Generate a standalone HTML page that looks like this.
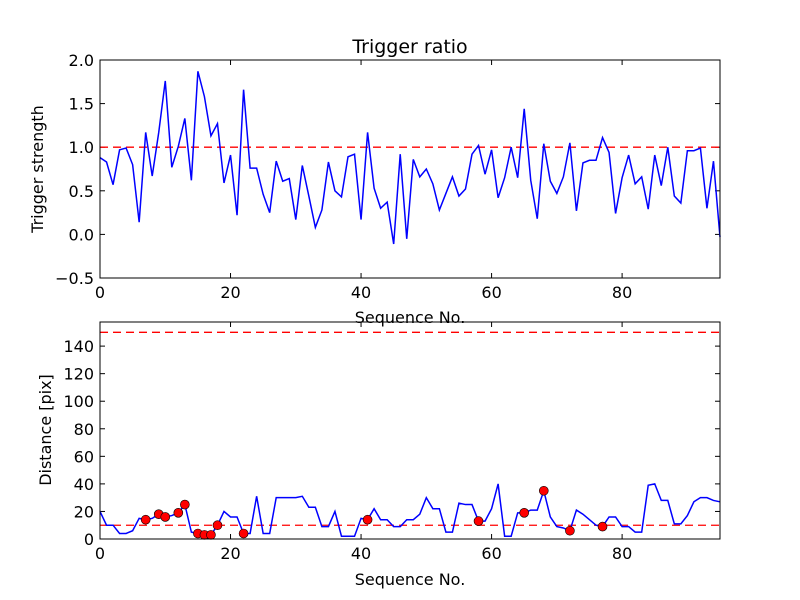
<!DOCTYPE html>
<html><head><meta charset="utf-8"><style>
body{margin:0;background:#fff}
svg{display:block;font-family:"DejaVu Sans","Liberation Sans",sans-serif}
</style></head><body>
<svg id="c" width="800" height="600" xmlns="http://www.w3.org/2000/svg"></svg>
<script>
const seqX = Array.from({length:96},(_,i)=>i);
const ratioValues = [0.88,0.83,0.57,0.97,0.99,0.80,0.14,1.17,0.67,1.17,1.76,0.77,1.01,1.33,0.62,1.87,1.58,1.13,1.27,0.59,0.91,0.22,1.66,0.76,0.76,0.46,0.25,0.84,0.61,0.64,0.17,0.79,0.44,0.08,0.28,0.83,0.50,0.43,0.89,0.92,0.17,1.17,0.53,0.30,0.37,-0.11,0.92,-0.05,0.86,0.66,0.75,0.58,0.28,0.47,0.66,0.44,0.52,0.92,1.02,0.69,0.97,0.42,0.65,1.0,0.65,1.44,0.62,0.18,1.04,0.61,0.47,0.66,1.05,0.27,0.82,0.85,0.85,1.11,0.94,0.24,0.65,0.91,0.58,0.66,0.29,0.91,0.56,1.0,0.44,0.36,0.96,0.96,0.99,0.30,0.84,-0.03];
const distValues = [20,10,10,4,4,6,15,14,15,18,16,17,19,25,5,4,3,3,10,20,16,16,4,4,31,4,4,30,30,30,30,31,23,23,9,9,20,2,2,2,15,14,22,14,14,9,9,14,14,18,30,22,22,5,5,26,25,25,13,13,22,40,2,2,19,19,21,21,35,16,9,8,6,21,18,14,10,9,16,16,9,9,5,5,39,40,28,28,11,11,17,27,30,30,28,27];
const markerIdx = [7,9,10,12,13,15,16,17,18,22,41,58,65,68,72,77];
const ratioThreshold = [1.0];
const distThresholds = [10,150];
const xTicks = [0,20,40,60,80];
const topTicks = [-0.5,0.0,0.5,1.0,1.5,2.0];
const botTicks = [0,20,40,60,80,100,120,140];

const svg=document.getElementById('c');
const NS='http://www.w3.org/2000/svg';
function el(t,a,txt){const e=document.createElementNS(NS,t);for(const k in a)e.setAttribute(k,a[k]);if(txt!==undefined)e.textContent=txt;svg.appendChild(e);return e;}
const L=100,R=720;
const sx=v=>L+(v-0)/(95-0)*(R-L);
const T1=60,B1=278, sy1=v=>B1-(v+0.5)/2.5*(B1-T1);
const T2=322,B2=539, sy2=v=>B2-v/157.5*(B2-T2);

function axes(T,B,sy,ticks,fmt,name){
  for(const t of xTicks){const x=sx(t);
    let a=el('line',{x1:x,x2:x,y1:B,y2:B-5,stroke:'#000'});
    el('line',{x1:x,x2:x,y1:T,y2:T+5,stroke:'#000'});
    let l=el('text',{x:x,y:B+20,'text-anchor':'middle','font-size':16},String(t));}
  for(const t of ticks){const y=sy(t);
    el('line',{x1:L,x2:L+5,y1:y,y2:y,stroke:'#000'});el('line',{x1:R,x2:R-5,y1:y,y2:y,stroke:'#000'});
    let l=el('text',{x:L-6,y:y+6,'text-anchor':'end','font-size':16},fmt(t));}
}
// top
axes(T1,B1,sy1,topTicks,t=>(t<0?'\u22120.5':t.toFixed(1)),'top');
for(const v of ratioThreshold){let l=el('line',{x1:L,x2:R,y1:sy1(v),y2:sy1(v),stroke:'red','stroke-dasharray':'8,5','stroke-width':1.3});}
let p1=el('polyline',{points:seqX.map((x,i)=>sx(x)+','+sy1(ratioValues[i])).join(' '),fill:'none',stroke:'blue','stroke-width':1.5});

let f1=el('rect',{x:L,y:T1,width:R-L,height:B1-T1,fill:'none',stroke:'#000'});
let tt=el('text',{x:410,y:53,'text-anchor':'middle','font-size':19},'Trigger ratio');
let xl1=el('text',{x:410,y:323,'text-anchor':'middle','font-size':16},'Sequence No.');
let yl1=el('text',{x:43,y:169,'text-anchor':'middle','font-size':16,transform:'rotate(-90 43 169)'},'Trigger strength');
// bottom
axes(T2,B2,sy2,botTicks,t=>String(t),'bottom');
for(const v of distThresholds){let l=el('line',{x1:L,x2:R,y1:sy2(v),y2:sy2(v),stroke:'red','stroke-dasharray':'8,5','stroke-width':1.3});}
let p2=el('polyline',{points:seqX.map((x,i)=>sx(x)+','+sy2(distValues[i])).join(' '),fill:'none',stroke:'blue','stroke-width':1.5});

for(const i of markerIdx){let c=el('circle',{cx:sx(seqX[i]),cy:sy2(distValues[i]),r:4.5,fill:'red',stroke:'#000','stroke-width':0.6});
  }
let f2=el('rect',{x:L,y:T2,width:R-L,height:B2-T2,fill:'none',stroke:'#000'});
let xl2=el('text',{x:410,y:585,'text-anchor':'middle','font-size':16},'Sequence No.');
let yl2=el('text',{x:51,y:430,'text-anchor':'middle','font-size':16,transform:'rotate(-90 51 430)'},'Distance [pix]');
</script>
</body></html>
